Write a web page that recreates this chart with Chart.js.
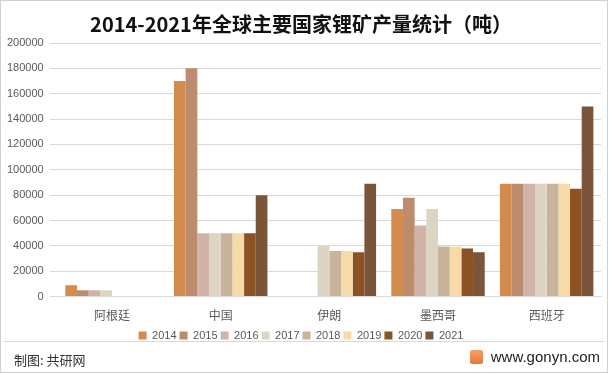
<!DOCTYPE html>
<html><head><meta charset="utf-8">
<script src="https://cdn.jsdelivr.net/npm/chart.js@4/dist/chart.umd.min.js"></script>
<style>
html,body{margin:0;padding:0;background:#fff;}
#wrap{position:relative;width:608px;height:373px;box-sizing:border-box;border:1px solid #d0d0d0;overflow:hidden;font-family:"Noto Sans CJK SC",sans-serif;}
#cbox{position:absolute;left:0;top:0;width:606px;height:350px;}
#foot{position:absolute;left:3px;top:340px;width:600px;height:31px;border-top:1px solid #d9d9d9;}
#fl{position:absolute;left:10px;top:8px;font-size:13px;color:#333;}
#fr{position:absolute;right:4px;top:6px;font-size:15px;color:#222;font-family:"Liberation Sans",Arial,sans-serif;}
#logo{display:inline-block;width:13px;height:14px;background:linear-gradient(#f4a064,#e9773a);border-radius:2px;vertical-align:-2px;margin-right:8px;}
</style></head>
<body><div id="wrap"><div id="cbox"><canvas id="c"></canvas></div>
<div id="foot"><div id="fl">制图: 共研网</div><div id="fr"><span id="logo"></span>www.gonyn.com</div></div></div>
<script>
const categories = ["阿根廷","中国","伊朗","墨西哥","西班牙"];
const years = ["2014","2015","2016","2017","2018","2019","2020","2021"];
const v2014 = [9000,170000,null,69000,89000];
const v2015 = [5000,180000,null,78000,89000];
const v2016 = [5000,50000,null,56000,89000];
const v2017 = [5000,50000,40000,69000,89000];
const v2018 = [null,50000,36000,39500,89000];
const v2019 = [null,50000,36000,39500,89000];
const v2020 = [null,50000,35000,38000,85000];
const v2021 = [null,80000,89000,35000,150000];
const yTicks = [0,20000,40000,60000,80000,100000,120000,140000,160000,180000,200000];
const colors = ["#D48B4E","#BC8C6C","#D2B3A8","#DDD5C4","#C7B49A","#F6DBA8","#8B5323","#7A553A"];
const series = [v2014,v2015,v2016,v2017,v2018,v2019,v2020,v2021];
new Chart(document.getElementById('c'),{
  type:'bar',
  data:{labels:categories,datasets:series.map((d,i)=>({label:years[i],data:d,backgroundColor:colors[i],barPercentage:1,categoryPercentage:0.86}))},
  options:{
    responsive:true,maintainAspectRatio:false,animation:false,
    layout:{padding:{left:0,right:6,top:0,bottom:0}},
    plugins:{
      title:{display:true,text:'2014-2021年全球主要国家锂矿产量统计（吨）',font:{size:20,weight:'bold',family:'"Noto Sans CJK SC"'},color:'#111',padding:{top:11,bottom:7}},
      legend:{position:'bottom',labels:{boxWidth:8,boxHeight:8,font:{size:11},color:'#595959',padding:3}},
      tooltip:{enabled:false}
    },
    scales:{
      x:{grid:{display:false},border:{color:'#d9d9d9'},ticks:{color:'#595959',font:{size:12,family:'"Noto Sans CJK SC"'},padding:4}},
      y:{min:0,max:200000,afterBuildTicks:(s)=>{s.ticks=yTicks.map(v=>({value:v}));},grid:{color:'#d9d9d9'},border:{display:false},ticks:{color:'#595959',font:{size:11},padding:6,callback:(v)=>String(v)}}
    }
  }
});
</script></body></html>
